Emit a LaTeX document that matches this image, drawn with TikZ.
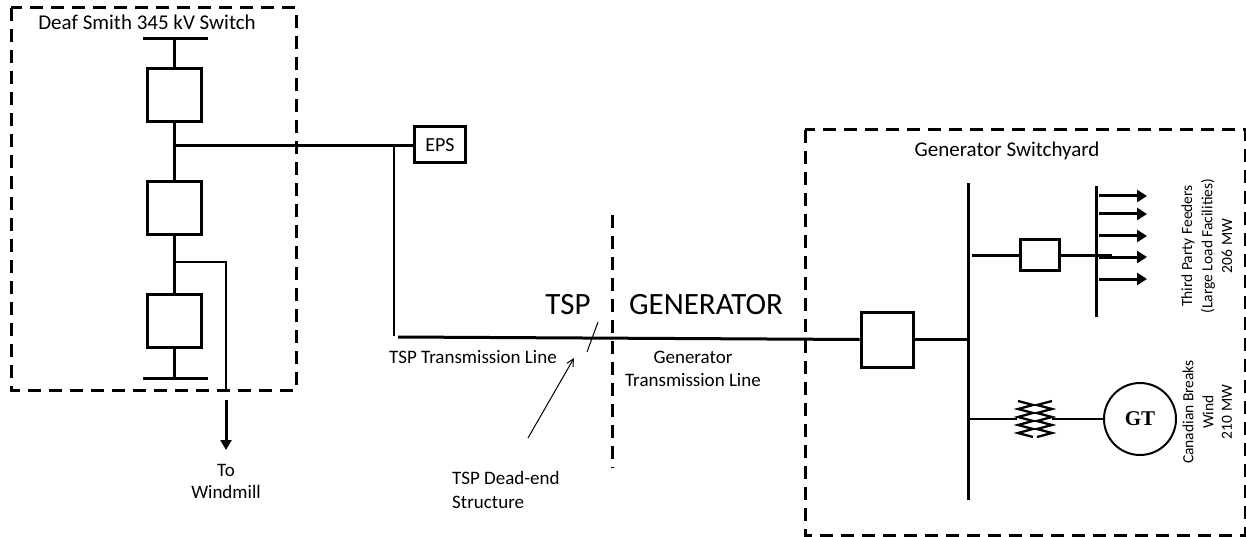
\documentclass[tikz,border=0pt]{standalone}
\usepackage{fontspec}
\setmainfont{Carlito}
\newfontfamily\gtfont{Liberation Serif}
\usetikzlibrary{arrows.meta}
\tikzset{
  heavy/.style={line width=3pt},
  light/.style={line width=2pt},
  hair/.style={line width=1pt},
  dashbox/.style={line width=3pt, dash pattern=on 13pt off 8pt},
  brk/.style={draw, line width=3pt, inner sep=0pt, minimum width=#1},
  lbl/.style={font=\fontsize{19}{24}\selectfont, inner sep=0pt},
  ttl/.style={font=\fontsize{21}{24}\selectfont, inner sep=0pt},
  big/.style={font=\fontsize{31}{34}\selectfont, inner sep=0pt},
  side/.style={font=\fontsize{15.5}{18}\selectfont, inner sep=0pt, rotate=90},
  feed/.style={heavy, -{Triangle[length=10pt,width=12pt]}},
  coil/.style={line width=2.3pt},
}
\begin{document}
\begin{tikzpicture}[x=1pt,y=-1pt]
\useasboundingbox (0,0) rectangle (1246,537);
% ---- left switch
\draw[dashbox] (11,8) rectangle (296,390);
\node[ttl] (dstitle) at (147,22) {Deaf Smith 345 kV Switch};
\coordinate (tbL) at (143,39); \coordinate (tbR) at (208,39);
\coordinate (tbC) at (174,39);
\coordinate (bbL) at (143,378); \coordinate (bbR) at (208,378);
\coordinate (bbC) at (174,378);
\draw[heavy] (tbL) -- (tbR);
\draw[heavy] (bbL) -- (bbR);
\node[brk=54pt, minimum height=53pt] (b1) at (174,95.5) {};
\node[brk=54pt, minimum height=53pt] (b2) at (174,208.5) {};
\node[brk=54pt, minimum height=53pt] (b3) at (174,320.5) {};
\draw[heavy] (tbC) -- (b1.north);
\draw[heavy] (b1.south) -- (b2.north);
\draw[heavy] (b2.south) -- (b3.north);
\draw[heavy] (b3.south) -- (bbC);
\coordinate (j1) at (174,146);
\coordinate (j2) at (174,262);
\node[brk=51pt, minimum height=36pt, font=\fontsize{20}{24}\selectfont] (eps) at (440,145) {EPS};
\draw[heavy] (j1) -- (eps.west |- j1);
% windmill
\coordinate (wc) at (226,262);
\coordinate (wb) at (226,390);
\coordinate (wa) at (226,400);
\coordinate (wt) at (226,450);
\draw[light] (j2) -- (wc) -- (wb);
\draw[heavy, -{Triangle[length=10pt,width=11pt]}] (wa) -- (wt);
\node[lbl] (to) at (226,470) {To};
\node[lbl] (wm) at (226,492) {Windmill};
% ---- TSP line
\coordinate (ec) at (394,146);
\coordinate (ed) at (394,336);
\draw[light] (ec) -- (ed);
\coordinate (ts) at (398,337);
\node[brk=52pt, minimum height=55pt] (gb) at (887,339.5) {};
\draw[heavy] (ts) -- (gb.west);
\node[lbl] (tspl) at (473,357) {TSP Transmission Line};
\node[big] (tsp) at (568,305) {TSP};
\node[big] (gen) at (706,305) {GENERATOR};
\node[lbl, align=center, font=\fontsize{19}{23}\selectfont] (gtl) at (693,369) {Generator\\Transmission Line};
\coordinate (dvt) at (612,215); \coordinate (dvb) at (612,468);
\draw[dashbox] (dvt) -- (dvb);
\coordinate (tk1) at (598,322); \coordinate (tk2) at (587,352);
\draw[hair] (tk1) -- (tk2);
\node[lbl, align=left, anchor=west] (de) at (452,490) {TSP Dead-end\\Structure};
\coordinate (da) at (528,438); \coordinate (db) at (574,358);
\draw[hair, -{Straight Barb[length=7pt,width=7pt]}] (da) -- (db);
% ---- generator switchyard
\draw[dashbox] (805,130) rectangle (1245,535);
\node[ttl] (gsy) at (1007,151) {Generator Switchyard};
\coordinate (busT) at (968,183); \coordinate (busB) at (968,500);
\draw[heavy] (busT) -- (busB);
\coordinate (busM) at (968,339.5);
\draw[heavy] (gb.east) -- (busM);
\node[brk=39pt, minimum height=31pt] (sb) at (1039.5,255) {};
\coordinate (ub) at (972,255);
\draw[heavy] (ub) -- (sb.west);
\coordinate (ue) at (1112,255);
\draw[heavy] (sb.east) -- (ue);
\coordinate (fbT) at (1096,186); \coordinate (fbB) at (1096,317);
\draw[heavy] (fbT) -- (fbB);
\foreach \y/\n in {196/f1,214/f2,236/f3,257/f4,279/f5} {
  \coordinate (\n s) at (1099,\y);
  \coordinate (\n e) at (1147,\y);
  \draw[feed] (\n s) -- (\n e);
}
\coordinate (lb) at (968,419);
\coordinate (zl) at (1017,419);
\coordinate (zr) at (1052,419);
\node[draw, circle, line width=2pt, minimum size=72pt, inner sep=0pt,
      font=\gtfont\bfseries\fontsize{21}{24}\selectfont] (gt) at (1140,419) {GT};
\draw[light] (lb) -- (zl);
\draw[light] (zr) -- (gt.west);
\draw[coil] (1018,401)
  \foreach \i in {1,...,9} { -- ({ifthenelse(mod(\i,2)==1,1033,1018)},{401+\i*4}) };
\draw[coil] (1052,401)
  \foreach \i in {1,...,9} { -- ({ifthenelse(mod(\i,2)==1,1037,1052)},{401+\i*4}) };
\node[side] (tp1) at (1188,246) {Third Party Feeders};
\node[side] (tp2) at (1208,246) {(Large Load Facilities)};
\node[side] (tp3) at (1227,246) {206 MW};
\node[side] (cb1) at (1188,412) {Canadian Breaks};
\node[side] (cb2) at (1208,412) {Wind};
\node[side] (cb3) at (1227,412) {210 MW};
\end{tikzpicture}
\end{document}
